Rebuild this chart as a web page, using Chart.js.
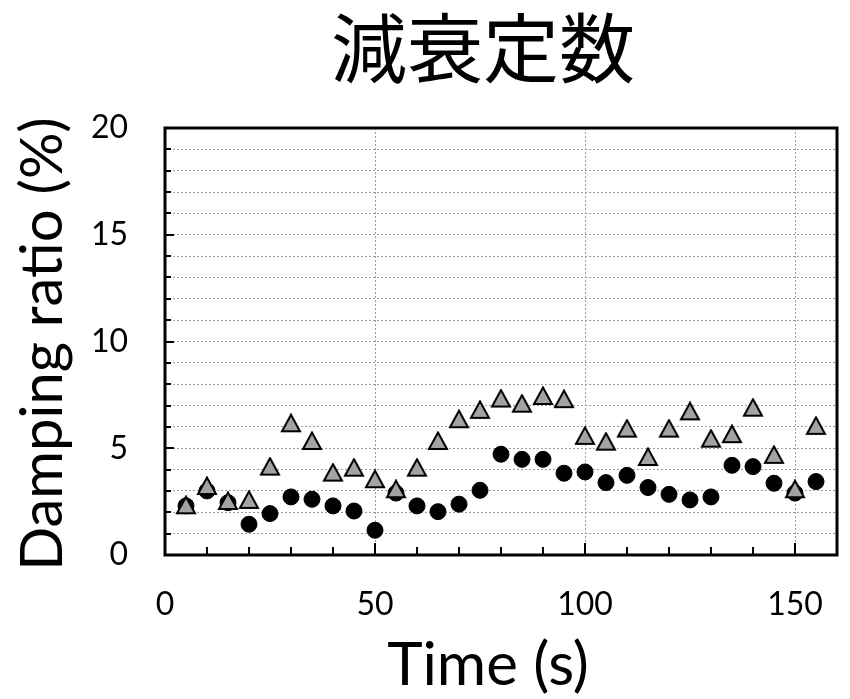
<!DOCTYPE html>
<html>
<head>
<meta charset="utf-8">
<script src="https://cdn.jsdelivr.net/npm/chart.js@4.4.1/dist/chart.umd.min.js"></script>
<style>
    html, body { margin: 0; padding: 0; background: #fff; }
</style>
</head>
<body>
<canvas id="damping" width="850" height="699"></canvas>
<script>
// Time axis (s)
const times = [5, 10, 15, 20, 25, 30, 35, 40, 45, 50, 55, 60, 65, 70, 75, 80,
               85, 90, 95, 100, 105, 110, 115, 120, 125, 130, 135, 140, 145, 150, 155];
// damping ratio (%), gray triangles
const triangleValues = [2.33, 3.23, 2.53, 2.58, 4.14, 6.17, 5.34, 3.86, 4.09, 3.55, 3.08, 4.09, 5.34, 6.36, 6.8, 7.33,
                        7.09, 7.45, 7.3, 5.58, 5.31, 5.92, 4.59, 5.92, 6.73, 5.45, 5.66, 6.9, 4.69, 3.08, 6.05];
// damping ratio (%), black circles
const circleValues = [2.3, 3.0, 2.45, 1.44, 1.94, 2.72, 2.61, 2.3, 2.06, 1.16, 2.9, 2.3, 2.03, 2.38, 3.03, 4.72,
                      4.48, 4.48, 3.83, 3.89, 3.39, 3.73, 3.16, 2.84, 2.58, 2.72, 4.2, 4.14, 3.36, 2.9, 3.44];
const xTickLabels = [0, 50, 100, 150];
const yTickLabels = [0, 5, 10, 15, 20];

const chartTitle = '減衰定数';
const xTitle = 'Time (s)';
const yTitle = 'Damping ratio (%)';

// triangle marker, centred in its own box (like the spreadsheet marker)
function makeTriangle() {
    const c = document.createElement('canvas');
    c.width = 22;
    c.height = 20;
    const g = c.getContext('2d');
    g.beginPath();
    g.moveTo(11, 1.5);
    g.lineTo(20, 18);
    g.lineTo(2, 18);
    g.closePath();
    g.fillStyle = '#a3a3a3';
    g.fill();
    g.lineWidth = 2;
    g.strokeStyle = '#000';
    g.stroke();
    return c;
}

// frame, inward tick marks and the free-standing titles
const framePlugin = {
    id: 'frame',
    beforeDatasetsDraw(chart) {
        const {ctx, chartArea: a, scales: {x, y}} = chart;
        ctx.save();
        ctx.strokeStyle = '#000';
        ctx.lineWidth = 2;
        ctx.beginPath();
        for (let v = 10; v < 160; v += 10) {
            const px = Math.round(x.getPixelForValue(v));
            const len = v % 50 === 0 ? 12 : 8;
            ctx.moveTo(px, a.bottom);
            ctx.lineTo(px, a.bottom - len);
        }
        for (let v = 1; v < 20; v++) {
            const py = Math.round(y.getPixelForValue(v));
            const len = v % 5 === 0 ? 9 : 6;
            ctx.moveTo(a.left, py);
            ctx.lineTo(a.left + len, py);
        }
        ctx.stroke();
        ctx.lineWidth = 3;
        ctx.strokeRect(a.left, a.top, a.right - a.left, a.bottom - a.top);
        ctx.restore();
    },
    afterDraw(chart) {
        const {ctx} = chart;
        ctx.save();
        ctx.fillStyle = '#000';
        ctx.textAlign = 'center';
        ctx.textBaseline = 'middle';
        ctx.font = '76px "Noto Sans CJK JP"';
        ctx.fillText(chartTitle, 483, 48);
        ctx.textBaseline = 'alphabetic';
        ctx.font = '60px Lato';
        ctx.fillText(xTitle, 488, 685);
        // rotated y title
        ctx.translate(62, 344);
        ctx.rotate(-Math.PI / 2);
        ctx.font = '58px Lato';
        ctx.fillText(yTitle, 0, 0);
        ctx.restore();
    }
};

const ctx = document.getElementById('damping').getContext('2d');
new Chart(ctx, {
    type: 'scatter',
    data: {
        datasets: [
            {
                label: 'triangle',
                data: times.map((t, i) => ({x: t, y: triangleValues[i]})),
                pointStyle: makeTriangle(),
                pointRadius: 10,
                clip: false
            },
            {
                label: 'circle',
                data: times.map((t, i) => ({x: t, y: circleValues[i]})),
                pointStyle: 'circle',
                pointRadius: 8,
                pointBackgroundColor: '#000',
                pointBorderColor: '#000',
                pointBorderWidth: 1,
                clip: false
            }
        ]
    },
    options: {
        responsive: false,
        animation: false,
        devicePixelRatio: 1,
        layout: {padding: {left: 0, right: 13, top: 128, bottom: 0}},
        plugins: {
            legend: {display: false},
            tooltip: {enabled: false},
            title: {display: false}
        },
        scales: {
            x: {
                type: 'linear',
                min: 0,
                max: 160,
                afterFit: (scale) => {
                    scale.height = 144;
                    scale.paddingLeft = 0;
                    scale.paddingRight = 0;
                },
                ticks: {
                    stepSize: 10,
                    autoSkip: false,
                    maxRotation: 0,
                    padding: 30,
                    color: '#000',
                    font: {family: 'Lato', size: 32},
                    callback: (v) => xTickLabels.includes(v) ? String(v) : ''
                },
                grid: {
                    drawTicks: false,
                    lineWidth: 1,
                    color: (c) => (c.tick && c.tick.value % 50 === 0 && c.tick.value > 0 && c.tick.value < 160) ? '#9c9c9c' : 'rgba(0,0,0,0)'
                },
                border: {display: false, dash: [2, 2]}
            },
            y: {
                min: 0,
                max: 20,
                afterFit: (scale) => { scale.width = 165; },
                ticks: {
                    stepSize: 1,
                    autoSkip: false,
                    padding: 37,
                    color: '#000',
                    font: {family: 'Lato', size: 32},
                    callback: (v) => yTickLabels.includes(v) ? String(v) : ''
                },
                grid: {
                    drawTicks: false,
                    lineWidth: 1,
                    color: (c) => (c.tick && c.tick.value > 0 && c.tick.value < 20) ? '#9c9c9c' : 'rgba(0,0,0,0)'
                },
                border: {display: false, dash: [2, 2]}
            }
        }
    },
    plugins: [framePlugin]
});
</script>
</body>
</html>
